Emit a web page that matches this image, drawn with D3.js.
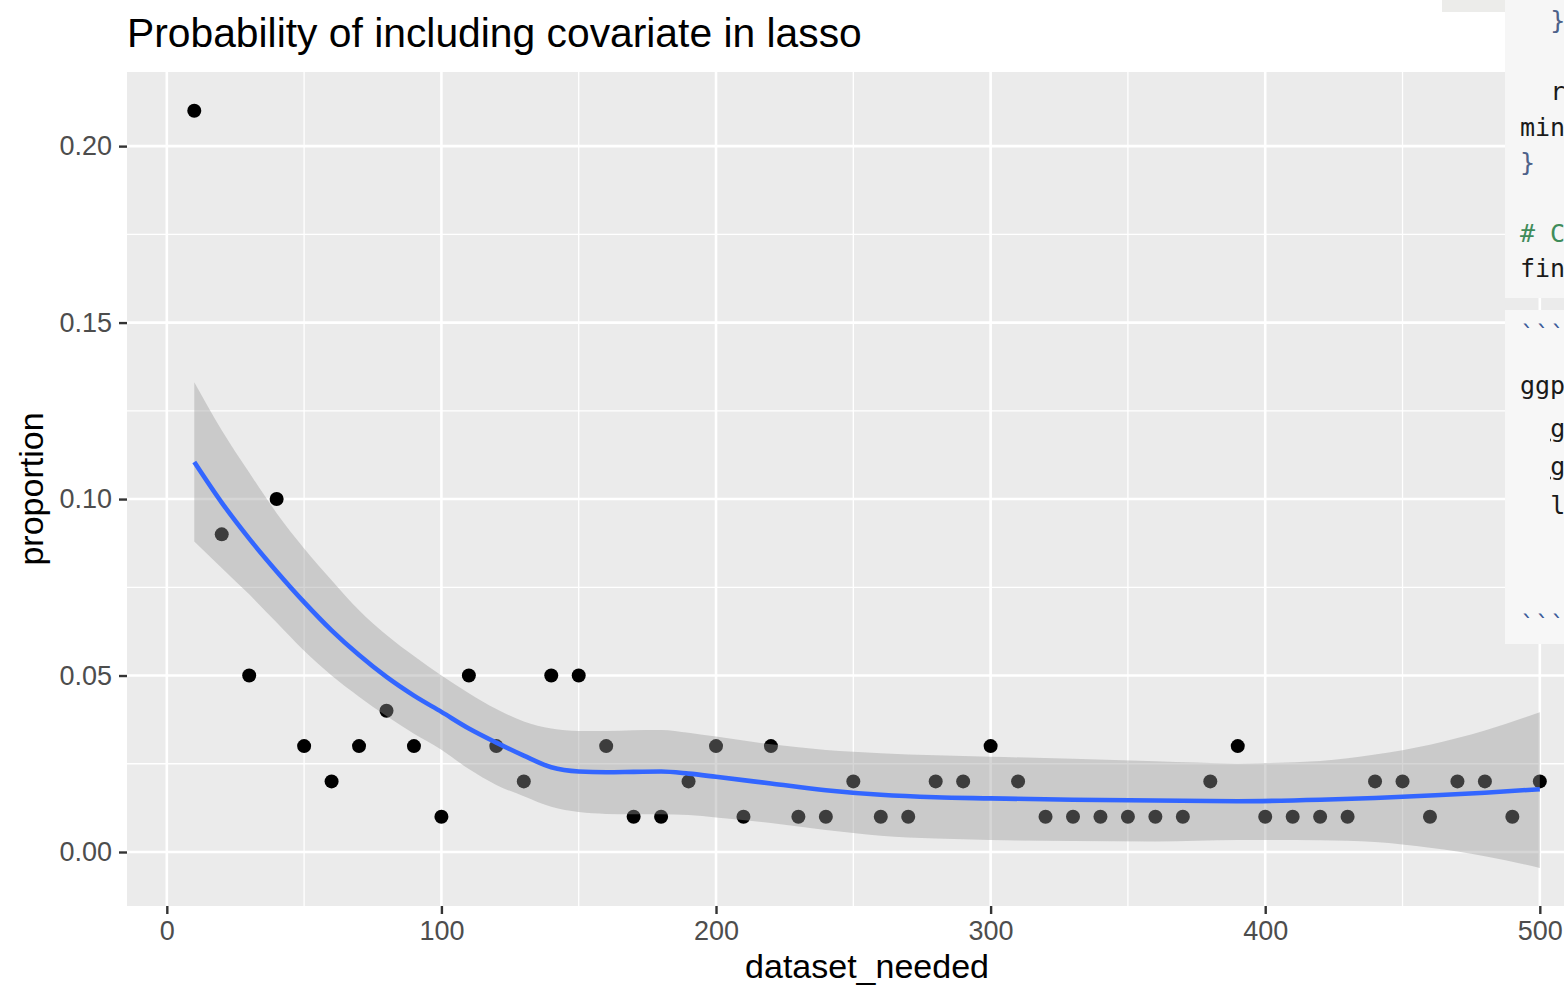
<!DOCTYPE html>
<html>
<head>
<meta charset="utf-8">
<script src="https://cdn.jsdelivr.net/npm/d3@7"></script>
<style>
  html, body { margin: 0; padding: 0; background: #fff; overflow: hidden; }
  svg { display: block; font-family: "Liberation Sans", Arial, sans-serif; }
</style>
</head>
<body>
<div id="chart"></div>
<script>
// observed proportions, one per dataset_needed value
const datasetNeeded = [10, 20, 30, 40, 50, 60, 70, 80, 90, 100, 110, 120, 130, 140, 150, 160, 170, 180, 190, 200,
  210, 220, 230, 240, 250, 260, 270, 280, 290, 300, 310, 320, 330, 340, 350, 360, 370, 380, 390, 400,
  410, 420, 430, 440, 450, 460, 470, 480, 490, 500];
const proportion = [0.21, 0.09, 0.05, 0.10, 0.03, 0.02, 0.03, 0.04, 0.03, 0.01, 0.05, 0.03, 0.02, 0.05, 0.05, 0.03, 0.01, 0.01, 0.02, 0.03,
  0.01, 0.03, 0.01, 0.01, 0.02, 0.01, 0.01, 0.02, 0.02, 0.03, 0.02, 0.01, 0.01, 0.01, 0.01, 0.01, 0.01, 0.02, 0.03, 0.01,
  0.01, 0.01, 0.01, 0.02, 0.02, 0.01, 0.02, 0.02, 0.01, 0.02];

// loess smooth, with its confidence band
const smoothX = [10, 20, 30, 40, 50, 60, 70, 80, 90, 100, 110, 120, 130, 140, 150, 160, 170, 180, 190, 200,
  220, 240, 260, 280, 300, 330, 360, 390, 420, 440, 460, 480, 500];
const smoothFit = [0.1105, 0.0990, 0.0888, 0.0795, 0.0708, 0.0628, 0.0558, 0.0496, 0.0443, 0.0397, 0.0350, 0.0310, 0.0273, 0.0240, 0.0228, 0.0226, 0.0227, 0.0228, 0.0222, 0.0213,
  0.0194, 0.0175, 0.0162, 0.0155, 0.0152, 0.0148, 0.0146, 0.0144, 0.0148, 0.0153, 0.0160, 0.0168, 0.0178];
const smoothHi = [0.1331, 0.1195, 0.1075, 0.0960, 0.0860, 0.0770, 0.0685, 0.0615, 0.0555, 0.0500, 0.0450, 0.0405, 0.0370, 0.0350, 0.0343, 0.0343, 0.0345, 0.0346, 0.0338, 0.0327,
  0.0305, 0.0289, 0.0280, 0.0274, 0.0270, 0.0264, 0.0257, 0.0251, 0.0258, 0.0276, 0.0304, 0.0344, 0.0396];
const smoothLo = [0.0880, 0.0805, 0.0730, 0.0650, 0.0570, 0.0500, 0.0440, 0.0385, 0.0335, 0.0290, 0.0235, 0.0190, 0.0158, 0.0128, 0.0113, 0.0108, 0.0107, 0.0107, 0.0105, 0.0098,
  0.0082, 0.0062, 0.0046, 0.0038, 0.0034, 0.0031, 0.0030, 0.0034, 0.0033, 0.0028, 0.0012, -0.0012, -0.0045];

const xTicks = [0, 100, 200, 300, 400, 500];
const xMinor = [50, 150, 250, 350, 450];
const yTicks = [0, 0.05, 0.10, 0.15, 0.20];
const yMinor = [0.025, 0.075, 0.125, 0.175];

const title = "Probability of including covariate in lasso";
const xTitle = "dataset_needed";
const yTitle = "proportion";

// the code editor pane that overlaps the right edge of the screenshot
const codeLines = [
  { text: "}", col: 2, y: 20, color: "#4d6189" },
  { text: "r", col: 2, y: 91, color: "#1a1a1a" },
  { text: "min", col: 0, y: 127, color: "#1a1a1a" },
  { text: "}", col: 0, y: 162, color: "#4d6189" },
  { text: "# C", col: 0, y: 233, color: "#3f8c5a" },
  { text: "fin", col: 0, y: 268, color: "#1a1a1a" },
  { text: "```", col: 0, y: 334, color: "#3b5b9a" },
  { text: "ggp", col: 0, y: 385, color: "#1a1a1a" },
  { text: "g", col: 2, y: 428, color: "#1a1a1a", underline: true },
  { text: "g", col: 2, y: 466, color: "#1a1a1a", underline: true },
  { text: "l", col: 2, y: 505, color: "#1a1a1a" },
  { text: "```", col: 0, y: 624, color: "#3b5b9a" },
];

const width = 1564;
const height = 987;
const panel = { left: 127, top: 72, bottom: 906 };

const x = d3.scaleLinear().domain([-14.5, 524.5]).range([panel.left, panel.left + 539 * 2.746]);
const y = d3.scaleLinear().domain([-0.0153, 0.221]).range([panel.bottom, panel.top]);

const svg = d3.select("#chart").append("svg")
  .attr("width", width)
  .attr("height", height)
  .attr("viewBox", [0, 0, width, height]);

// panel background
svg.append("rect")
  .attr("x", panel.left)
  .attr("y", panel.top)
  .attr("width", x.range()[1] - panel.left)
  .attr("height", panel.bottom - panel.top)
  .attr("fill", "#ebebeb");

const grid = svg.append("g").attr("stroke", "#fff");
grid.selectAll(".minor-x").data(xMinor).join("line")
  .attr("x1", d => x(d)).attr("x2", d => x(d))
  .attr("y1", panel.top).attr("y2", panel.bottom)
  .attr("stroke-width", 1.3);
grid.selectAll(".minor-y").data(yMinor).join("line")
  .attr("x1", panel.left).attr("x2", x.range()[1])
  .attr("y1", d => y(d)).attr("y2", d => y(d))
  .attr("stroke-width", 1.3);
grid.selectAll(".major-x").data(xTicks).join("line")
  .attr("x1", d => x(d)).attr("x2", d => x(d))
  .attr("y1", panel.top).attr("y2", panel.bottom)
  .attr("stroke-width", 2.6);
grid.selectAll(".major-y").data(yTicks).join("line")
  .attr("x1", panel.left).attr("x2", x.range()[1])
  .attr("y1", d => y(d)).attr("y2", d => y(d))
  .attr("stroke-width", 2.6);

// points go under the band so the band greys them, as in ggplot
svg.append("g")
  .selectAll("circle")
  .data(datasetNeeded.map((d, i) => [d, proportion[i]]))
  .join("circle")
  .attr("cx", d => x(d[0]))
  .attr("cy", d => y(d[1]))
  .attr("r", 7)
  .attr("fill", "#000");

const smooth = smoothX.map((d, i) => ({ x: d, fit: smoothFit[i], lo: smoothLo[i], hi: smoothHi[i] }));

svg.append("path")
  .datum(smooth)
  .attr("fill", "#999999")
  .attr("fill-opacity", 0.4)
  .attr("d", d3.area()
    .x(d => x(d.x))
    .y0(d => y(d.lo))
    .y1(d => y(d.hi))
    .curve(d3.curveMonotoneX));

svg.append("path")
  .datum(smooth)
  .attr("fill", "none")
  .attr("stroke", "#3366ff")
  .attr("stroke-width", 4.6)
  .attr("d", d3.line()
    .x(d => x(d.x))
    .y(d => y(d.fit))
    .curve(d3.curveMonotoneX));

// axes
const gX = svg.append("g")
  .attr("transform", `translate(0,${panel.bottom})`)
  .call(d3.axisBottom(x).tickValues(xTicks).tickSize(8).tickPadding(7).tickFormat(d3.format("d")))
  .call(g => g.select(".domain").remove())
  .attr("font-size", null)
  .attr("font-family", null);
gX.selectAll("line").attr("stroke", "#333").attr("stroke-width", 2.4);
gX.selectAll("text").attr("fill", "#4d4d4d").attr("font-size", 27);

const gY = svg.append("g")
  .attr("transform", `translate(${panel.left},0)`)
  .call(d3.axisLeft(y).tickValues(yTicks).tickSize(8).tickPadding(7).tickFormat(d3.format(".2f")))
  .call(g => g.select(".domain").remove())
  .attr("font-size", null)
  .attr("font-family", null);
gY.selectAll("line").attr("stroke", "#333").attr("stroke-width", 2.4);
gY.selectAll("text").attr("fill", "#4d4d4d").attr("font-size", 27);

// titles
svg.append("text")
  .attr("x", panel.left)
  .attr("y", 47)
  .attr("font-size", 40.8)
  .attr("fill", "#000")
  .text(title);

svg.append("text")
  .attr("x", (panel.left + x.range()[1]) / 2)
  .attr("y", 978)
  .attr("text-anchor", "middle")
  .attr("font-size", 34)
  .attr("fill", "#000")
  .text(xTitle);

svg.append("text")
  .attr("transform", `translate(43,${(panel.top + panel.bottom) / 2}) rotate(-90)`)
  .attr("text-anchor", "middle")
  .attr("font-size", 34)
  .attr("fill", "#000")
  .text(yTitle);

// editor pane overlapping the plot on the right
const editor = svg.append("g");
editor.append("rect")
  .attr("x", 1442).attr("y", 0).attr("width", 64).attr("height", 12)
  .attr("fill", "#ececea");
editor.append("rect")
  .attr("x", 1505).attr("y", 0).attr("width", 60).attr("height", 298)
  .attr("fill", "#f6f6f6");
editor.append("rect")
  .attr("x", 1505).attr("y", 310).attr("width", 60).attr("height", 334)
  .attr("fill", "#f7f7f7");

const charW = 15.1;
editor.selectAll("text")
  .data(codeLines)
  .join("text")
  .attr("x", d => 1520 + d.col * charW)
  .attr("y", d => d.y)
  .attr("dy", "0.35em")
  .attr("font-family", "'DejaVu Sans Mono', monospace")
  .attr("font-size", 25)
  .attr("fill", d => d.color)
  .attr("text-decoration", d => d.underline ? "underline" : null)
  .text(d => d.text);
</script>
</body>
</html>
